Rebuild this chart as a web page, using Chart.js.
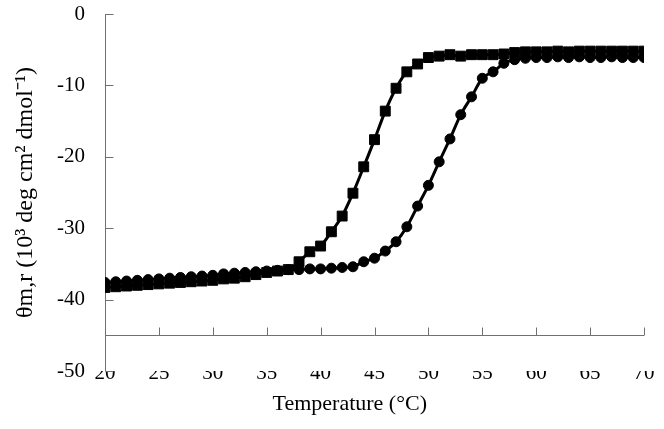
<!DOCTYPE html>
<html><head><meta charset="utf-8">
<script src="https://cdn.jsdelivr.net/npm/chart.js@4/dist/chart.umd.min.js"></script>
<style>html,body{margin:0;padding:0;background:#fff}#wrap{width:664px;height:429px}</style>
</head><body><div id="wrap"><canvas id="c" width="664" height="429"></canvas></div>
<script>
const temperatures = [20,21,22,23,24,25,26,27,28,29,30,31,32,33,34,35,36,37,38,39,40,41,42,43,44,45,46,47,48,49,50,51,52,53,54,55,56,57,58,59,60,61,62,63,64,65,66,67,68,69,70];
const squareSeries = [-38.3,-38.2,-38.1,-38.0,-37.9,-37.8,-37.7,-37.6,-37.5,-37.4,-37.3,-37.1,-37.0,-36.8,-36.5,-36.2,-36.0,-35.8,-34.7,-33.3,-32.5,-30.5,-28.3,-25.1,-21.4,-17.6,-13.6,-10.4,-8.1,-7.0,-6.1,-5.9,-5.7,-5.9,-5.7,-5.7,-5.7,-5.6,-5.4,-5.3,-5.3,-5.3,-5.2,-5.3,-5.2,-5.2,-5.2,-5.2,-5.2,-5.2,-5.2];
const circleSeries = [-37.6,-37.5,-37.4,-37.3,-37.2,-37.1,-37.0,-36.9,-36.8,-36.7,-36.6,-36.4,-36.3,-36.2,-36.1,-36.0,-35.9,-35.8,-35.8,-35.7,-35.7,-35.6,-35.5,-35.4,-34.7,-34.2,-33.2,-31.9,-29.8,-26.9,-24.0,-20.7,-17.5,-14.1,-11.6,-9.0,-8.1,-6.9,-6.4,-6.2,-6.1,-6.1,-6.0,-6.1,-6.0,-6.1,-6.1,-6.0,-6.1,-6.1,-6.1];
const xTickValues = [20,25,30,35,40,45,50,55,60,65,70];
const yTickValues = [0,-10,-20,-30,-40,-50];
const xAxisCrossesAt = -45;
const xTitle = 'Temperature (°C)';
const yTitle = 'θm,r (10³ deg cm² dmol⁻¹)';

Chart.defaults.font.family = "'Liberation Serif','Times New Roman',serif";
Chart.defaults.font.size = 21;
Chart.defaults.color = '#000';

const toPoints = arr => arr.map((v, i) => ({x: temperatures[i], y: v}));

const axesPlugin = {
  id: 'axesPlugin',
  beforeDatasetsDraw(chart) {
    const {ctx, scales: {x, y}} = chart;
    ctx.save();
    ctx.strokeStyle = '#707070';
    ctx.lineWidth = 1;
    const x0 = Math.round(x.getPixelForValue(xTickValues[0])) + 0.5;
    const yTop = y.getPixelForValue(yTickValues[0]);
    const yBot = y.getPixelForValue(yTickValues[yTickValues.length - 1]);
    ctx.beginPath();
    ctx.moveTo(x0, yTop); ctx.lineTo(x0, yBot);
    yTickValues.forEach(v => {
      const py = Math.round(y.getPixelForValue(v)) + 0.5;
      ctx.moveTo(x0, py); ctx.lineTo(x0 + 8, py);
    });
    const yc = Math.round(y.getPixelForValue(xAxisCrossesAt)) + 0.5;
    ctx.moveTo(x0, yc); ctx.lineTo(x.getPixelForValue(xTickValues[xTickValues.length - 1]), yc);
    xTickValues.forEach(v => {
      const px = Math.round(x.getPixelForValue(v)) + 0.5;
      ctx.moveTo(px, yc); ctx.lineTo(px, yc - 8);
    });
    ctx.stroke();
    ctx.restore();
  }
};

new Chart(document.getElementById('c'), {
  type: 'scatter',
  data: {
    datasets: [
      {label: 'A', data: toPoints(squareSeries), showLine: true, borderColor: '#000', backgroundColor: '#000',
       borderWidth: 3, pointStyle: 'rect', pointRadius: 7, pointBorderWidth: 1, cubicInterpolationMode: 'monotone'},
      {label: 'B', data: toPoints(circleSeries), showLine: true, borderColor: '#000', backgroundColor: '#000',
       borderWidth: 3, pointStyle: 'circle', pointRadius: 5, pointBorderWidth: 1, cubicInterpolationMode: 'monotone'}
    ]
  },
  options: {
    responsive: false,
    animation: false,
    layout: {padding: {top: 14, right: 20, left: 0, bottom: 0}},
    plugins: {legend: {display: false}, tooltip: {enabled: false}},
    scales: {
      x: {
        type: 'linear', position: 'bottom', min: 20, max: 70,
        afterFit: s => { s.height = 58; s.paddingLeft = 0; s.paddingRight = 0; },
        afterBuildTicks: s => { s.ticks = xTickValues.map(v => ({value: v})); },
        grid: {display: false, drawTicks: false}, border: {display: false},
        ticks: {padding: -10, maxRotation: 0, autoSkip: false},
        title: {display: true, text: xTitle + '\u00a0'.repeat(9), font: {size: 22}, padding: {top: 0, bottom: 12}}
      },
      y: {
        type: 'linear', min: -50, max: 0,
        afterFit: s => { s.width = 105; s.paddingTop = 0; s.paddingBottom = 0; },
        afterBuildTicks: s => { s.ticks = yTickValues.map(v => ({value: v})); },
        grid: {display: false, drawTicks: false}, border: {display: false},
        ticks: {padding: 20},
        title: {display: true, text: yTitle, font: {size: 24}, padding: {top: 11, bottom: 0}}
      }
    }
  },
  plugins: [axesPlugin]
});
</script>
</body></html>
